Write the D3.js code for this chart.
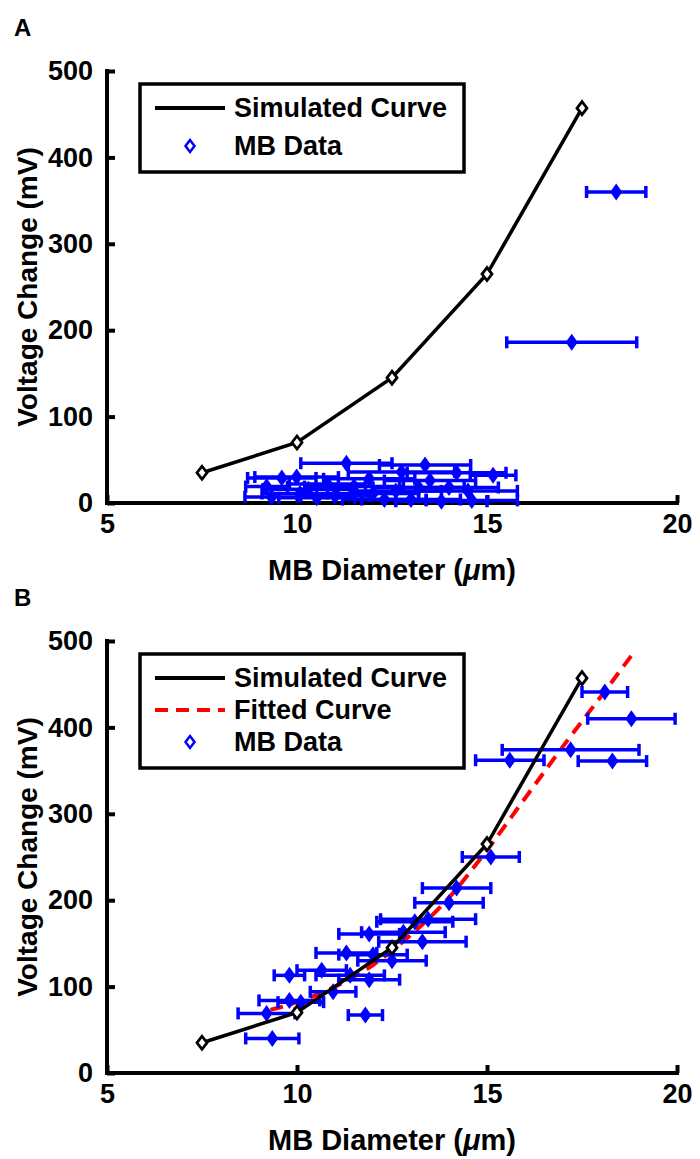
<!DOCTYPE html>
<html>
<head>
<meta charset="UTF-8">
<script src="https://d3js.org/d3.v7.min.js"></script>
<style>
  body { margin: 0; background: #fff; }
  svg { display: block; font-family: "Liberation Sans", Arial, sans-serif; font-weight: bold; }
</style>
</head>
<body>
<svg id="chart" width="700" height="1159"></svg>
<script>
// shared tick values
const xTicks = [5, 10, 15, 20];
const yTicks = [0, 100, 200, 300, 400, 500];

// simulated curve (same in both panels)
const simX = [7.5, 10, 12.5, 15, 17.5];
const simY = [35, 70, 145, 265, 457];

// panel A: measured MB data (diameter, voltage, half width of x error bar)
const aX   = [9.33, 9.6, 9.99, 10.08, 10.52, 9.2, 11.3, 11.5, 12.0, 12.6, 12.75, 13.0, 13.2, 13.37, 13.8, 14.0, 14.2, 14.6, 15.16, 10.8, 11.0, 11.9, 12.3, 14.5, 13.5, 10.3, 18.4, 17.23];
const aY   = [7, 29, 30, 11, 6, 19, 46, 19, 11, 14, 36, 4, 18, 44, 2, 18, 35, 3, 32, 22, 8, 28, 4, 14, 26, 16, 360, 186];
const aErr = [0.7, 0.9, 1.1, 1.0, 1.0, 0.55, 1.2, 1.3, 1.2, 1.2, 1.4, 1.3, 1.2, 1.2, 1.2, 1.3, 1.3, 1.2, 0.6, 1.0, 0.9, 1.2, 1.1, 1.3, 1.2, 1.2, 0.78, 1.71];

// panel B: measured MB data
const bX   = [18.1, 18.8, 17.2, 18.3, 15.6, 15.1, 14.2, 14.0, 13.45, 13.1, 12.8, 11.9, 13.3, 11.3, 12.0, 9.8, 10.65, 11.4, 11.9, 10.95, 9.8, 10.1, 9.2, 11.8, 9.35, 12.5];
const bY   = [441, 410, 374, 361, 362, 250, 214, 197, 178, 175, 163, 161, 152, 139, 137, 113, 119, 113, 108, 94, 84, 82, 69, 67, 40, 130];
const bErr = [0.6, 1.15, 1.8, 0.9, 0.9, 0.75, 0.9, 0.9, 1.25, 1.0, 1.1, 0.8, 1.15, 0.8, 0.9, 0.4, 0.65, 0.9, 0.8, 0.6, 0.8, 0.6, 0.75, 0.45, 0.7, 0.9];

// panel B: fitted curve
const fitX = [9.3, 10, 11, 12, 13, 14, 15, 16, 17, 18, 18.8];
const fitY = [73, 82, 100, 125, 160, 203, 258, 318, 378, 436, 483];

const svg = d3.select("#chart");
const left = 107, right = 677;

function diamond(w, h) {
  return `M0,${-h/2}L${w/2},0L0,${h/2}L${-w/2},0Z`;
}

function drawPanel(opt) {
  const x = d3.scaleLinear().domain([5, 20]).range([left, right]);
  const y = d3.scaleLinear().domain([0, 500]).range([opt.bottom, opt.top]);
  const g = svg.append("g");

  // panel letter
  g.append("text").attr("x", 14).attr("y", opt.top - 35)
    .style("font-size", "24px").text(opt.letter);

  // axes
  const xAxis = d3.axisBottom(x).tickValues(xTicks).tickSizeInner(-8).tickSizeOuter(0).tickPadding(11);
  const yAxis = d3.axisLeft(y).tickValues(yTicks).tickSizeInner(-8).tickSizeOuter(0).tickPadding(14);
  const gx = g.append("g").attr("transform", `translate(0,${opt.bottom})`).call(xAxis);
  const gy = g.append("g").attr("transform", `translate(${left},0)`).call(yAxis);
  [gx, gy].forEach(a => {
    a.selectAll("path, line").attr("stroke", "#000").attr("stroke-width", 4);
    a.selectAll("text").attr("fill", "#000").style("font-size", "27px")
      .style("font-family", "'Liberation Sans', Arial, sans-serif").style("font-weight", "bold");
  });
  gx.select(".domain").attr("d", `M${left - 2},0H${right + 2}`);
  gy.select(".domain").attr("d", `M0,${opt.bottom + 2}V${opt.top - 2}`);

  g.append("text").attr("x", (left + right) / 2).attr("y", opt.bottom + 77)
    .attr("text-anchor", "middle").style("font-size", "29px")
    .html('MB Diameter (<tspan font-style="italic">μ</tspan>m)');
  g.append("text")
    .attr("transform", `translate(37,${(opt.top + opt.bottom) / 2}) rotate(-90)`)
    .attr("text-anchor", "middle").style("font-size", "28px")
    .text("Voltage Change (mV)");

  // fitted curve
  if (opt.fit) {
    g.append("path")
      .datum(d3.range(fitX.length))
      .attr("fill", "none").attr("stroke", "#ff0000").attr("stroke-width", 4)
      .attr("stroke-dasharray", "13,8")
      .attr("d", d3.line().curve(d3.curveMonotoneX).x(i => x(fitX[i])).y(i => y(fitY[i])));
  }

  // error bars + data points
  const idx = d3.range(opt.px.length);
  const eb = g.append("g").attr("stroke", "#0000ff").attr("stroke-width", 3.5);
  idx.forEach(i => {
    const cx = opt.px[i], cy = y(opt.py[i]);
    const x0 = x(cx - opt.pe[i]), x1 = x(cx + opt.pe[i]);
    eb.append("line").attr("x1", x0).attr("x2", x1).attr("y1", cy).attr("y2", cy);
    eb.append("line").attr("x1", x0).attr("x2", x0).attr("y1", cy - 6).attr("y2", cy + 6);
    eb.append("line").attr("x1", x1).attr("x2", x1).attr("y1", cy - 6).attr("y2", cy + 6);
  });
  g.append("g").selectAll("path").data(idx).join("path")
    .attr("transform", i => `translate(${x(opt.px[i])},${y(opt.py[i])})`)
    .attr("d", diamond(12, 17)).attr("fill", "#0000ff");

  // simulated curve
  g.append("path").datum(d3.range(simX.length))
    .attr("fill", "none").attr("stroke", "#000").attr("stroke-width", 3.5)
    .attr("d", d3.line().x(i => x(simX[i])).y(i => y(simY[i])));
  g.append("g").selectAll("path").data(d3.range(simX.length)).join("path")
    .attr("transform", i => `translate(${x(simX[i])},${y(simY[i])})`)
    .attr("d", diamond(10, 13)).attr("fill", "#fff").attr("stroke", "#000").attr("stroke-width", 2.8);

  // legend
  const lg = g.append("g");
  lg.append("rect").attr("x", 140).attr("y", opt.legTop).attr("width", 324).attr("height", opt.legH)
    .attr("fill", "#fff").attr("stroke", "#000").attr("stroke-width", 3.5);
  opt.legend.forEach((e, k) => {
    const ly = opt.legRows[k];
    if (e.type === "line") {
      lg.append("line").attr("x1", 155).attr("x2", 225).attr("y1", ly).attr("y2", ly)
        .attr("stroke", e.color).attr("stroke-width", 4)
        .attr("stroke-dasharray", e.dash ? "13,8" : null);
    } else {
      lg.append("path").attr("transform", `translate(190,${ly})`).attr("d", diamond(9, 12))
        .attr("fill", "#fff").attr("stroke", "#0000ff").attr("stroke-width", 2.5);
    }
    lg.append("text").attr("x", 234).attr("y", ly + 9).style("font-size", "27px").text(e.label);
  });
}

drawPanel({
  letter: "A", top: 71, bottom: 503,
  px: aX, py: aY, pe: aErr, fit: false,
  legTop: 84, legH: 88, legRows: [108, 146],
  legend: [
    {type: "line", color: "#000", label: "Simulated Curve"},
    {type: "marker", label: "MB Data"}
  ]
});

drawPanel({
  letter: "B", top: 641, bottom: 1073,
  px: bX, py: bY, pe: bErr, fit: true,
  legTop: 654, legH: 114, legRows: [678, 710, 742],
  legend: [
    {type: "line", color: "#000", label: "Simulated Curve"},
    {type: "line", color: "#ff0000", dash: true, label: "Fitted Curve"},
    {type: "marker", label: "MB Data"}
  ]
});
</script>
</body>
</html>
